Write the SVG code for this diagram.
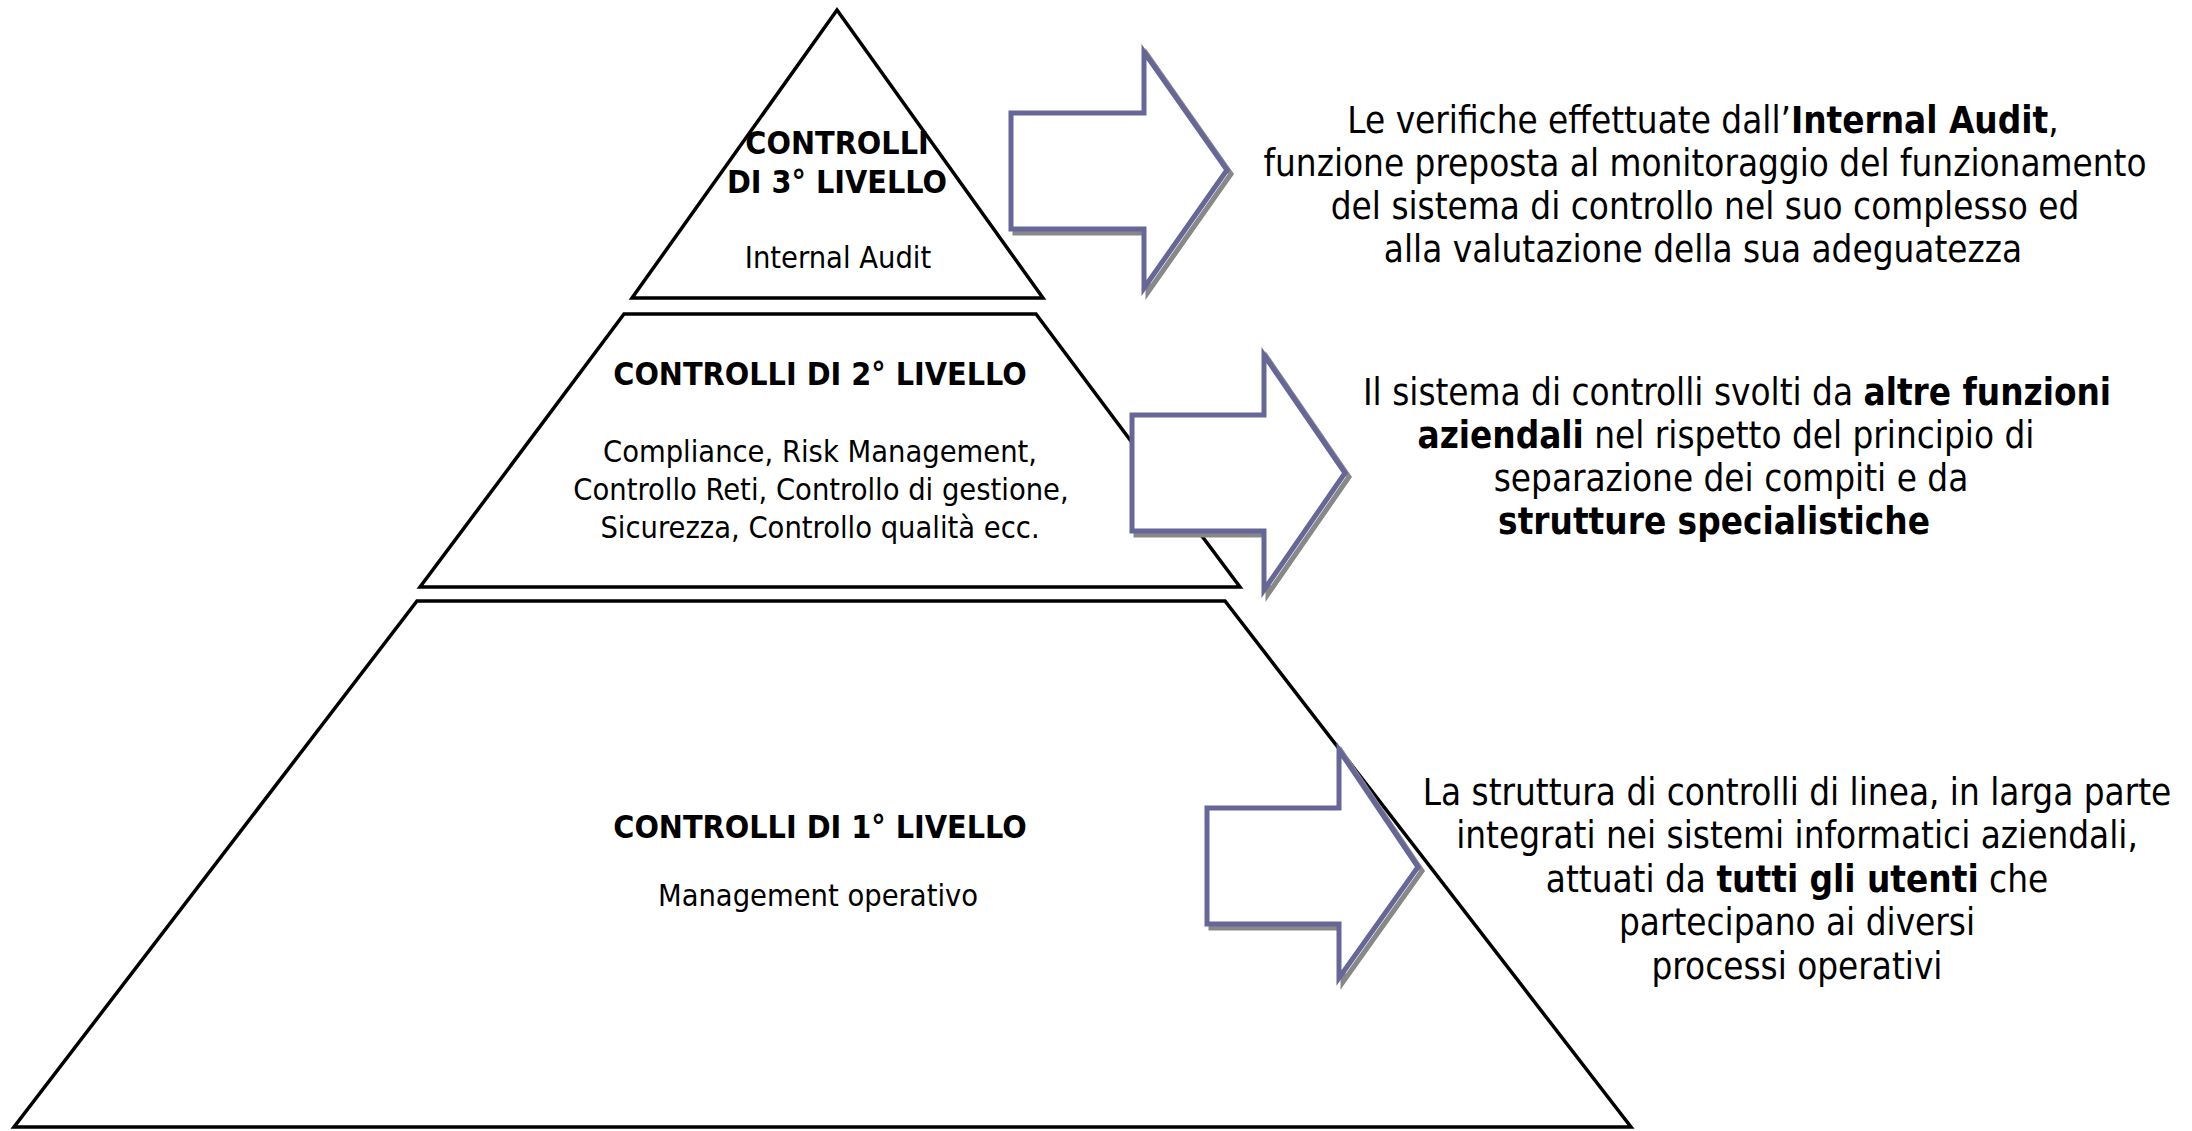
<svg xmlns="http://www.w3.org/2000/svg" width="2192" height="1131" viewBox="0 0 2192 1131">
<style>
.lvl{fill:#fff;stroke:#000;stroke-width:3.5;stroke-linejoin:miter}
.arr{fill:#fff;stroke:#666699;stroke-width:5;stroke-linejoin:miter}
.shd{fill:none;stroke:#888;stroke-width:5;stroke-linejoin:miter}
text{font-family:"DejaVu Sans Condensed","DejaVu Sans",sans-serif;font-stretch:condensed;fill:#000}
.pt{font-size:30.5px;text-anchor:middle}
.pb{font-size:32px;font-weight:bold;text-anchor:middle}
.rt{font-size:36.5px;text-anchor:middle}
.b{font-weight:bold}
</style>
<rect width="2192" height="1131" fill="#fff"/>
<g id="level3">
<polygon class="lvl" points="837,10 1043,298 632,298"/>
<text class="pb" x="837" y="154">CONTROLLI</text>
<text class="pb" x="837" y="193">DI 3° LIVELLO</text>
<text class="pt" x="838" y="268">Internal Audit</text>
</g>
<g id="level2">
<polygon class="lvl" points="624,314 1036,314 1240,587 420,587"/>
<text class="pb" x="820" y="385">CONTROLLI DI 2° LIVELLO</text>
<text class="pt" x="820" y="462">Compliance, Risk Management,</text>
<text class="pt" x="821" y="500">Controllo Reti, Controllo di gestione,</text>
<text class="pt" x="820" y="538">Sicurezza, Controllo qualità ecc.</text>
</g>
<g id="level1">
<polygon class="lvl" points="417,601 1225,601 1631,1127 14,1127"/>
<text class="pb" x="820" y="838">CONTROLLI DI 1° LIVELLO</text>
<text class="pt" x="818" y="906">Management operativo</text>
</g>
<g id="connectors">
<path class="shd" transform="translate(4,4)" d="M1011,113 H1144 V52 L1227,170 L1144,288 V229 H1011 Z"/>
<path class="arr" d="M1011,113 H1144 V52 L1227,170 L1144,288 V229 H1011 Z"/>
<path class="shd" transform="translate(4,4)" d="M1132,415 H1264 V355 L1345,473 L1264,590 V531 H1132 Z"/>
<path class="arr" d="M1132,415 H1264 V355 L1345,473 L1264,590 V531 H1132 Z"/>
<path class="shd" transform="translate(4,4)" d="M1207,808 H1339 V750 L1418,867 L1339,978 V924 H1207 Z"/>
<path class="arr" d="M1207,808 H1339 V750 L1418,867 L1339,978 V924 H1207 Z"/>
</g>
<g id="desc3">
<text class="rt" x="1703" y="133">Le verifiche effettuate dall’<tspan class="b">Internal Audit</tspan>,</text>
<text class="rt" x="1705" y="176">funzione preposta al monitoraggio del funzionamento</text>
<text class="rt" x="1705" y="219">del sistema di controllo nel suo complesso ed</text>
<text class="rt" x="1703" y="262">alla valutazione della sua adeguatezza</text>
</g>
<g id="desc2">
<text class="rt" x="1737" y="405">Il sistema di controlli svolti da <tspan class="b">altre funzioni</tspan></text>
<text class="rt" x="1726" y="448"><tspan class="b">aziendali</tspan> nel rispetto del principio di</text>
<text class="rt" x="1731" y="491">separazione dei compiti e da</text>
<text class="rt b" x="1714" y="534">strutture specialistiche</text>
</g>
<g id="desc1">
<text class="rt" x="1797" y="805">La struttura di controlli di linea, in larga parte</text>
<text class="rt" x="1797" y="848">integrati nei sistemi informatici aziendali,</text>
<text class="rt" x="1797" y="892">attuati da <tspan class="b">tutti gli utenti</tspan> che</text>
<text class="rt" x="1797" y="935">partecipano ai diversi</text>
<text class="rt" x="1797" y="979">processi operativi</text>
</g>
</svg>
